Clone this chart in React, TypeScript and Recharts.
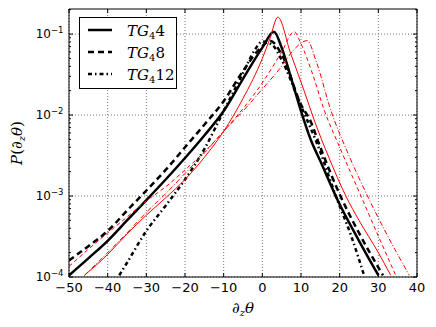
import { LineChart, Line, XAxis, YAxis, CartesianGrid, ReferenceLine } from 'recharts'

// x positions and P values, one pair per run
const tg4x = [-50, -45, -40, -35, -30, -25, -20, -15, -10, -5, 0, 3, 5, 7.5, 10, 12.5, 15, 20, 25, 30]
const tg4y = [1.05e-4, 1.7e-4, 2.8e-4, 5.0e-4, 8.9e-4, 1.6e-3, 2.95e-3, 5.6e-3, 1.12e-2, 2.8e-2, 6.8e-2, 0.107, 6.8e-2, 2.8e-2, 1.12e-2, 5.0e-3, 2.7e-3, 7.9e-4, 2.8e-4, 1.05e-4]

const tg8x = [-50, -45, -40, -35, -30, -25, -20, -15, -10, -5, 0, 2, 5, 10, 12.5, 15, 20, 25, 31.2]
const tg8y = [1.6e-4, 2.4e-4, 3.7e-4, 6.6e-4, 1.17e-3, 2.1e-3, 4.0e-3, 7.6e-3, 1.48e-2, 3.5e-2, 7.1e-2, 8.3e-2, 5.6e-2, 1.35e-2, 8.3e-3, 4.0e-3, 1.05e-3, 3.5e-4, 1.05e-4]

const tg12x = [-37, -35, -30, -25, -20, -15, -10, -5, -2, 0, 2.5, 5, 10, 15, 19, 23, 26.3]
const tg12y = [1.05e-4, 1.5e-4, 3.7e-4, 7.6e-4, 1.6e-3, 3.8e-3, 1.12e-2, 3.3e-2, 6.3e-2, 8.1e-2, 7.4e-2, 4.8e-2, 1.3e-2, 3.5e-3, 1.0e-3, 3.2e-4, 1.05e-4]

const red4x = [-46, -40, -35, -30, -25, -20, -15, -10, -5, 0, 2, 4, 7.3, 10.8, 13.4, 17.2, 21.6, 25, 30, 33.2]
const red4y = [1.05e-4, 1.9e-4, 3.4e-4, 5.8e-4, 9.5e-4, 1.6e-3, 3.0e-3, 6.3e-3, 1.6e-2, 5.0e-2, 8.9e-2, 0.162, 5.8e-2, 2.0e-2, 8.7e-3, 3.0e-3, 1.0e-3, 5.0e-4, 2.0e-4, 1.05e-4]

const red8x = [-50, -45, -40, -35, -30, -25, -20, -15, -10, -5, 0, 5, 8.2, 10, 13, 16, 20, 25.5, 30, 34.5]
const red8y = [1.35e-4, 2.2e-4, 3.5e-4, 5.5e-4, 8.7e-4, 1.3e-3, 2.1e-3, 3.5e-3, 6.3e-3, 1.2e-2, 2.5e-2, 6.0e-2, 0.107, 7.6e-2, 3.2e-2, 1.15e-2, 4.0e-3, 1.0e-3, 3.2e-4, 1.05e-4]

const red12x = [-46, -40, -35, -30, -25, -20, -15, -10, -5, 0, 5, 8, 11.6, 14, 17.7, 22, 27.2, 32, 38]
const red12y = [1.05e-4, 2.0e-4, 3.5e-4, 6.3e-4, 1.07e-3, 1.9e-3, 3.4e-3, 6.3e-3, 1.12e-2, 2.1e-2, 4.0e-2, 6.3e-2, 8.3e-2, 4.5e-2, 1.15e-2, 3.5e-3, 1.0e-3, 3.5e-4, 1.05e-4]

const xTicks = [-50, -40, -30, -20, -10, 0, 10, 20, 30, 40]
const decades = [1e-4, 1e-3, 1e-2, 1e-1]
const mantissas = [1, 2, 3, 4, 5, 6, 7, 8, 9]
const yTicks = decades.flatMap((d) => mantissas.map((m) => m * d)).filter((v) => v <= 0.2 + 1e-9)
const yTop = 0.204

const zip = (xs: number[], ys: number[]) => xs.map((x, i) => ({ x, p: ys[i] }))

const series = [
  { name: 'TG4 4', sub: '4', data: zip(tg4x, tg4y), color: '#000', width: 2.5, dash: undefined as string | undefined, legend: true },
  { name: 'TG4 8', sub: '8', data: zip(tg8x, tg8y), color: '#000', width: 2.5, dash: '6 4', legend: true },
  { name: 'TG4 12', sub: '12', data: zip(tg12x, tg12y), color: '#000', width: 2.5, dash: '4 3 1.5 3', legend: true },
  { name: 'red 4', sub: '', data: zip(red4x, red4y), color: '#ff0000', width: 1, dash: undefined, legend: false },
  { name: 'red 8', sub: '', data: zip(red8x, red8y), color: '#ff0000', width: 1, dash: '4 3', legend: false },
  { name: 'red 12', sub: '', data: zip(red12x, red12y), color: '#ff0000', width: 1, dash: '5 2 1 2', legend: false },
]

const isMajor = (v: number) => {
  const e = Math.round(Math.log10(v))
  return Math.abs(v / Math.pow(10, e) - 1) < 1e-6
}

function YTickLeft(props: any) {
  const { x, y, payload } = props
  const v = payload.value
  const major = isMajor(v)
  const e = Math.round(Math.log10(v))
  return (
    <g>
      <line x1={x} x2={x + (major ? 4 : 2)} y1={y} y2={y} stroke="#000" />
      {major && (
        <text x={x - 5.5} y={y + 3.5} textAnchor="end" fontFamily="DejaVu Sans" fontSize={12} fill="#000">
          10<tspan dy={-4.5} fontSize={8.5}>{'\u2212' + Math.abs(e)}</tspan>
        </text>
      )}
    </g>
  )
}

function YTickRight(props: any) {
  const { x, y, payload } = props
  const major = isMajor(payload.value)
  return <line x1={x} x2={x - (major ? 4 : 2)} y1={y} y2={y} stroke="#000" />
}

function XTickBottom(props: any) {
  const { x, y, payload } = props
  const v = payload.value as number
  const label = v < 0 ? '\u2212' + Math.abs(v) : String(v)
  return (
    <g>
      <line x1={x} x2={x} y1={y} y2={y - 4} stroke="#000" />
      <text x={x} y={y + 15} textAnchor="middle" fontFamily="DejaVu Sans" fontSize={13} fill="#000">
        {label}
      </text>
    </g>
  )
}

function XTickTop(props: any) {
  const { x, y } = props
  return <line x1={x} x2={x} y1={y} y2={y + 4} stroke="#000" />
}

function XLabel(props: any) {
  const { viewBox } = props
  const cx = viewBox.x + viewBox.width / 2
  return (
    <text x={cx} y={viewBox.y + 36} textAnchor="middle" fontFamily="DejaVu Serif" fontStyle="italic" fontSize={15} fill="#000">
      ∂<tspan fontSize={10} dy={3}>z</tspan><tspan dy={-3}>θ</tspan>
    </text>
  )
}

function YLabel(props: any) {
  const { viewBox } = props
  const cx = 22
  const cy = viewBox.y + viewBox.height / 2
  return (
    <text x={cx} y={cy} transform={`rotate(-90 ${cx} ${cy})`} textAnchor="middle" fontFamily="DejaVu Serif" fontStyle="italic" fontSize={15} fill="#000">
      P<tspan fontStyle="normal">(</tspan>∂<tspan fontSize={10} dy={3}>z</tspan><tspan dy={-3}>θ</tspan><tspan fontStyle="normal">)</tspan>
    </text>
  )
}

function LegendBox() {
  const rows = series.filter((s) => s.legend)
  return (
    <svg width={98} height={72} style={{ display: 'block' }}>
      <rect x={0.5} y={0.5} width={97} height={71} fill="#fff" stroke="#000" />
      {rows.map((s, i) => (
        <g key={s.name}>
          <line x1={9} x2={33} y1={13 + 22 * i} y2={13 + 22 * i} stroke={s.color} strokeWidth={s.width} strokeDasharray={s.dash} />
          <text x={48} y={18.5 + 22 * i} fontFamily="DejaVu Serif" fontStyle="italic" fontSize={15} fill="#000">
            TG<tspan fontStyle="normal" fontSize={10} dy={3}>4</tspan>
            <tspan fontStyle="normal" dy={-3}>{s.sub}</tspan>
          </text>
        </g>
      ))}
    </svg>
  )
}

export default function App() {
  return (
    <div style={{ position: 'absolute', left: 0, top: 0, width: 436, height: 327, background: '#fff' }}>
      <LineChart width={436} height={327} margin={{ top: 8, right: 18, bottom: 0, left: 0 }}>
        <CartesianGrid horizontal={false} stroke="#777" strokeDasharray="1 2" />
        <XAxis
          dataKey="x"
          type="number"
          domain={[-50, 40]}
          ticks={xTicks}
          interval={0}
          allowDataOverflow
          height={50}
          tickSize={0}
          tickMargin={0}
          tickLine={false}
          axisLine={{ stroke: '#000' }}
          tick={<XTickBottom />}
          label={<XLabel />}
        />
        <XAxis
          xAxisId="top"
          orientation="top"
          dataKey="x"
          type="number"
          domain={[-50, 40]}
          ticks={xTicks}
          interval={0}
          allowDataOverflow
          height={1}
          tickSize={0}
          tickMargin={0}
          tickLine={false}
          axisLine={{ stroke: '#000' }}
          tick={<XTickTop />}
        />
        <YAxis
          type="number"
          scale="log"
          domain={[1e-4, yTop]}
          ticks={yTicks}
          interval={0}
          allowDataOverflow
          width={69}
          tickSize={0}
          tickMargin={0}
          tickLine={false}
          axisLine={{ stroke: '#000' }}
          tick={<YTickLeft />}
          label={<YLabel />}
        />
        <YAxis
          yAxisId="right"
          orientation="right"
          type="number"
          scale="log"
          domain={[1e-4, yTop]}
          ticks={yTicks}
          interval={0}
          allowDataOverflow
          width={1}
          tickSize={0}
          tickMargin={0}
          tickLine={false}
          axisLine={{ stroke: '#000' }}
          tick={<YTickRight />}
        />
        {decades.map((d) => (
          <ReferenceLine key={d} y={d} stroke="#777" strokeDasharray="1 2" />
        ))}
        {series.map((s) => (
          <Line
            key={s.name}
            data={s.data}
            dataKey="p"
            name={s.name}
            type="monotone"
            stroke={s.color}
            strokeWidth={s.width}
            strokeDasharray={s.dash}
            dot={false}
            activeDot={false}
            isAnimationActive={false}
          />
        ))}
      </LineChart>
      <div style={{ position: 'absolute', left: 79, top: 17 }}>
        <LegendBox />
      </div>
    </div>
  )
}
